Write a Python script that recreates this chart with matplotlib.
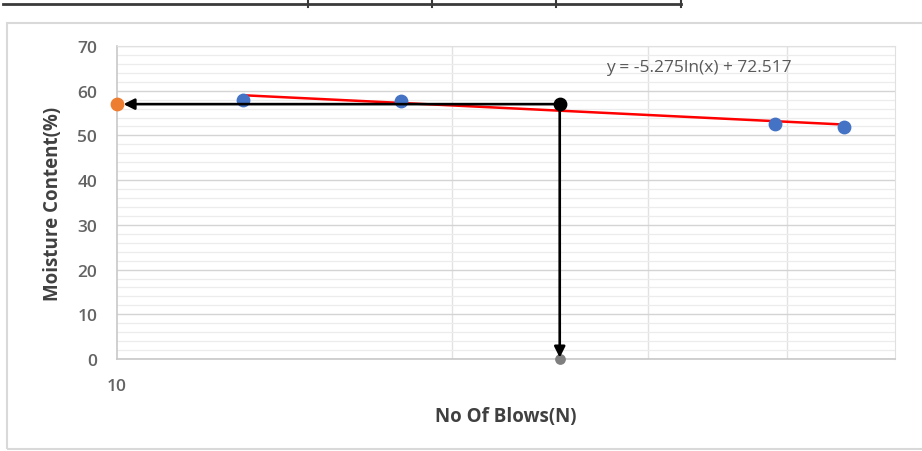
import matplotlib.pyplot as plt
import numpy as np
from matplotlib.lines import Line2D
from matplotlib.patches import Rectangle

# Liquid limit test results
blows = [13, 18, 39, 45]
moisture = [57.9, 57.7, 52.6, 51.9]

# logarithmic trendline y = a*ln(x) + b
fit_a = -5.275
fit_b = 72.517

# reading at 25 blows
ll_blows = 25
liquid_limit = 57.0

plt.rcParams['font.family'] = ['Open Sans', 'DejaVu Sans']

fig = plt.figure(figsize=(9.22, 4.52), dpi=100)
ax = fig.add_axes([0.1264, 0.2035, 0.8443, 0.6925])

# chart frame and the stray table rule above it
fig.add_artist(Rectangle((7 / 922, 2 / 452), 920 / 922, 426 / 452,
                         transform=fig.transFigure, fill=False,
                         edgecolor='#d9d9d9', lw=1.5))
fig.add_artist(Line2D([3 / 922, 681 / 922], [1 - 5 / 452, 1 - 5 / 452],
                      transform=fig.transFigure, color='#3a3a3a', lw=2))
for px in [308, 432, 556, 681]:
    fig.add_artist(Line2D([px / 922, px / 922], [1 - 1 / 452, 1 - 8 / 452],
                          transform=fig.transFigure, color='#3a3a3a', lw=1.5))

ax.set_xscale('log')
ax.set_xlim(10, 50)
ax.set_ylim(0, 70)

ax.set_xticks([10])
ax.set_xticklabels(['10'])
ax.set_xticks([20, 30, 40], minor=True)
ax.xaxis.set_minor_formatter(plt.NullFormatter())
ax.set_yticks(np.arange(0, 71, 10))
ax.set_yticks(np.arange(0, 71, 2), minor=True)

ax.grid(axis='y', which='major', color='#d4d4d4', lw=1.0)
ax.grid(axis='y', which='minor', color='#ececec', lw=0.9)
ax.grid(axis='x', which='minor', color='#e2e2e2', lw=1.0)
ax.set_axisbelow(True)

ax.tick_params(axis='both', which='both', length=0)
ax.tick_params(axis='y', pad=14, labelsize=12.5, labelcolor='#646464')
ax.tick_params(axis='x', pad=14, labelsize=12.5, labelcolor='#646464')
for lab in ax.get_xticklabels() + ax.get_yticklabels():
    lab.set_fontweight('semibold')

for side in ['top', 'right']:
    ax.spines[side].set_color('#e0e0e0')
for side in ['left', 'bottom']:
    ax.spines[side].set_color('#c8c8c8')
    ax.spines[side].set_linewidth(1.2)

ax.set_xlabel('No Of Blows(N)', fontsize=13.5, fontweight='bold',
              color='#404040', labelpad=8)
ax.set_ylabel('Moisture Content(%)', fontsize=13.5, fontweight='bold',
              color='#404040', labelpad=10)

# trendline over the range of the test points
xs = np.linspace(min(blows), max(blows), 100)
ax.plot(xs, fit_a * np.log(xs) + fit_b, color='#ff0000', lw=1.8, zorder=3)

ax.scatter(blows, moisture, s=80, color='#4472c4', zorder=4)

# projection arrows from the 25-blow point to both axes
ax.annotate('', xy=(10, liquid_limit), xytext=(ll_blows, liquid_limit),
            arrowprops=dict(arrowstyle='-|>', color='black', lw=1.9,
                            mutation_scale=16, shrinkA=0, shrinkB=5),
            zorder=5, annotation_clip=False)
ax.annotate('', xy=(ll_blows, 0), xytext=(ll_blows, liquid_limit),
            arrowprops=dict(arrowstyle='-|>', color='black', lw=1.9,
                            mutation_scale=16, shrinkA=0, shrinkB=-1),
            zorder=5, annotation_clip=False)
ax.scatter([ll_blows], [0], s=45, color='#7f7f7f', zorder=4, clip_on=False)
ax.scatter([ll_blows], [liquid_limit], s=80, color='black', zorder=6)
ax.scatter([10], [liquid_limit], s=80, color='#ed7d31', zorder=6,
           clip_on=False)

ax.text(33.3, 65.3, 'y = -5.275ln(x) + 72.517', fontsize=12.5,
        color='#595959', ha='center', va='center')

fig.savefig('out.png', dpi=100)
